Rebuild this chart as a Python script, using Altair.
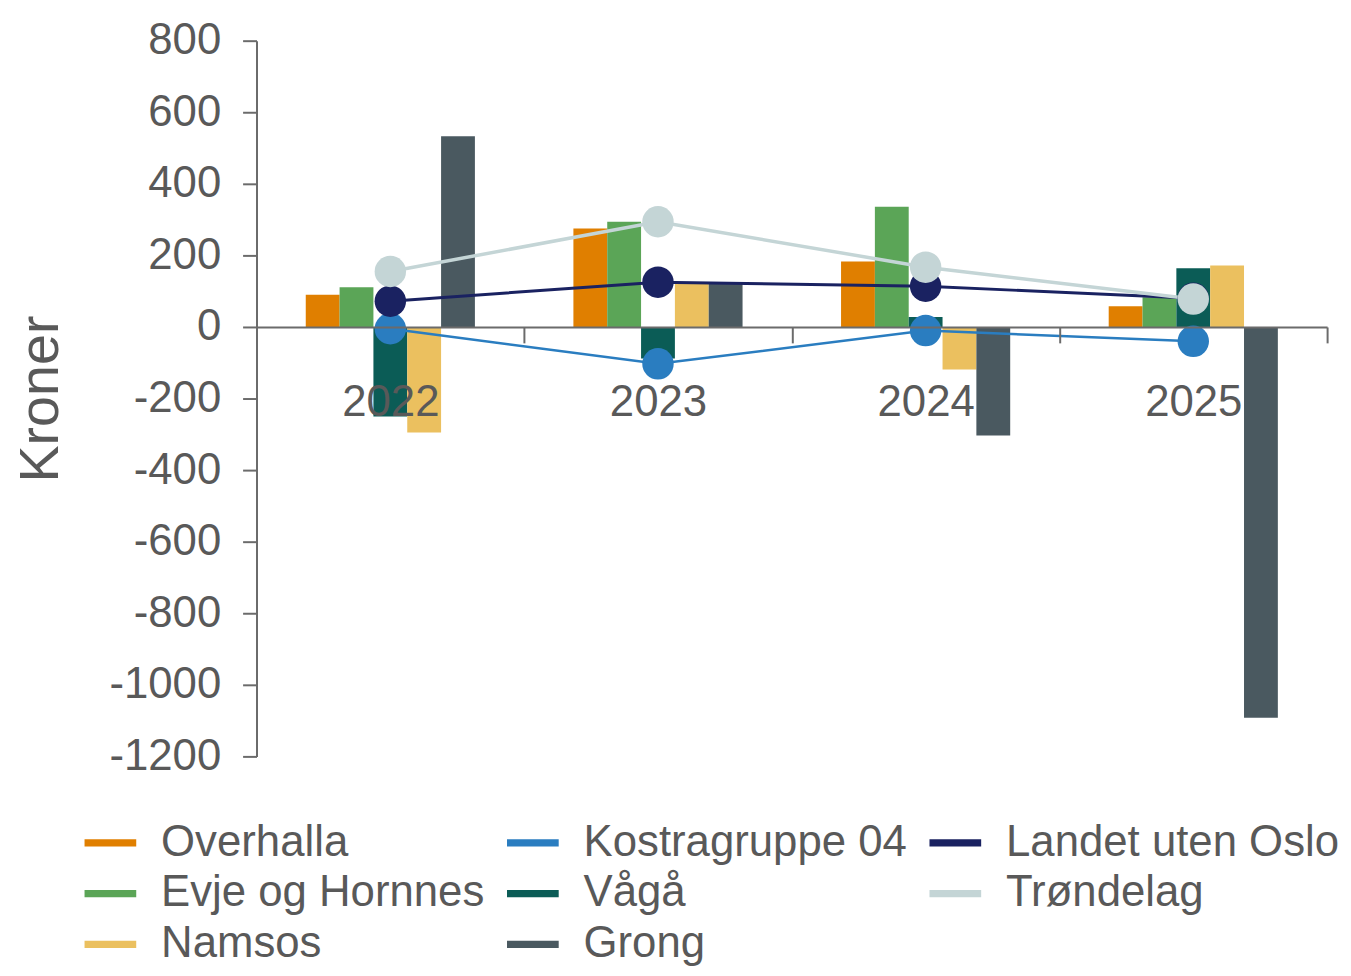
import altair as alt
import pandas as pd

years = ["2022", "2023", "2024", "2025"]

bar_series = ["Overhalla", "Evje og Hornnes", "Vågå", "Namsos", "Grong"]
line_series = ["Kostragruppe 04", "Landet uten Oslo", "Trøndelag"]

overhalla = [90, 275, 183, 58]
evje_og_hornnes = [111, 294, 336, 83]
vaga = [-250, -88, 28, 164]
namsos = [-295, 125, -119, 172]
grong = [533, 122, -303, -1092]

kostragruppe_04 = [-5, -103, -10, -40]
landet_uten_oslo = [72, 125, 114, 80]
trondelag = [155, 294, 167, 78]

legend_order = ["Overhalla", "Kostragruppe 04", "Landet uten Oslo",
                "Evje og Hornnes", "Vågå", "Trøndelag", "Namsos", "Grong"]
legend_colors = ["#E07F00", "#2A7DC0", "#1A2261",
                 "#5BA557", "#0B5C56", "#C4D5D6", "#EBC05F", "#4A5960"]

y_ticks = [800, 600, 400, 200, 0, -200, -400, -600, -800, -1000, -1200]

bar_values = {
    "Overhalla": overhalla,
    "Evje og Hornnes": evje_og_hornnes,
    "Vågå": vaga,
    "Namsos": namsos,
    "Grong": grong,
}
line_values = {
    "Kostragruppe 04": kostragruppe_04,
    "Landet uten Oslo": landet_uten_oslo,
    "Trøndelag": trondelag,
}

bar_df = pd.DataFrame([
    {"year": y, "series": s, "value": v}
    for s in bar_series for y, v in zip(years, bar_values[s])
])
line_df = pd.DataFrame([
    {"year": y, "series": s, "value": v}
    for s in line_series for y, v in zip(years, line_values[s])
])

W, H = 1077, 720
y_min, y_max = -1200, 800
zero_offset = -H * (0 - y_min) / (y_max - y_min)

step = W / len(years)
cluster = step * 0.632
offset_range = [(step - cluster) / 2, (step + cluster) / 2]

FONT = "Liberation Sans"
TXT = "#595959"
AX = "#6b6b6b"

color_scale = alt.Scale(domain=legend_order, range=legend_colors)
x_scale = alt.Scale(paddingInner=0, paddingOuter=0)
y_scale = alt.Scale(domain=[y_min, y_max], nice=False, zero=False)

x_enc = alt.X("year:N", scale=x_scale, sort=years,
              axis=alt.Axis(title=None, labelAngle=0, offset=zero_offset,
                            tickBand="extent", tickSize=16, labelPadding=38,
                            domainColor=AX, tickColor=AX, zindex=1,
                            domainWidth=2, tickWidth=2))
y_enc = alt.Y("value:Q", scale=y_scale,
              axis=alt.Axis(title="Kroner", values=y_ticks, grid=False,
                            labelExpr="'' + datum.value",
                            tickSize=14, labelPadding=22, titlePadding=40,
                            domainColor=AX, tickColor=AX,
                            domainWidth=2, tickWidth=2))

legend = alt.Legend(title=None, orient="none", legendX=-173, legendY=781,
                    direction="horizontal", columns=3,
                    symbolType="M-1,-0.14H1V0.14H-1Z", symbolSize=2704,
                    symbolStrokeWidth=0, labelOffset=25, columnPadding=22,
                    rowPadding=3, labelFontSize=44, labelFont=FONT,
                    labelColor=TXT, labelLimit=600)

bars = alt.Chart(bar_df).mark_bar().encode(
    x=x_enc,
    xOffset=alt.XOffset("series:N", sort=bar_series,
                        scale=alt.Scale(paddingInner=0, paddingOuter=0,
                                        range=offset_range)),
    y=y_enc,
    color=alt.Color("series:N", scale=color_scale, legend=legend),
)

lines = alt.Chart(line_df).mark_line().encode(
    x=alt.X("year:N", sort=years),
    y="value:Q",
    color=alt.Color("series:N", scale=color_scale),
    strokeWidth=alt.StrokeWidth("series:N",
                                scale=alt.Scale(domain=line_series, range=[2.5, 3.5, 4]),
                                legend=None),
    order=alt.Order("series:N"),
)

points = alt.Chart(line_df).mark_circle(size=1000, opacity=1).encode(
    x=alt.X("year:N", sort=years),
    y="value:Q",
    color=alt.Color("series:N", scale=color_scale),
)

chart = alt.layer(bars, lines, points).properties(
    width=W, height=H,
    autosize=alt.AutoSizeParams(type="none"),
    padding={"left": 250, "top": 30, "right": 16, "bottom": 210},
).configure_view(stroke=None).configure_axis(
    labelFont=FONT, labelFontSize=44, labelColor=TXT,
    titleFont=FONT, titleFontSize=56, titleColor=TXT, titleFontWeight="normal",
).configure_legend(symbolType="M-1,-0.14H1V0.14H-1Z")

chart.save("out.html", embed_options={"renderer": "svg", "actions": False})
